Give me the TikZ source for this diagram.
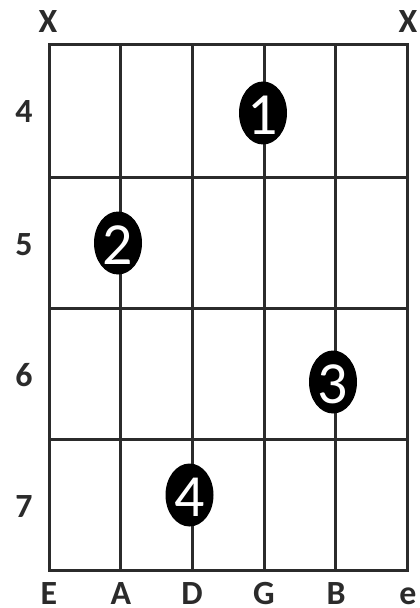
\documentclass[tikz,border=0pt]{standalone}
\usepackage{fontspec}
\setmainfont{Carlito}
\usetikzlibrary{shapes.geometric}
\definecolor{ink}{HTML}{2B2B2B}
\tikzset{
  gridline/.style={draw=ink, line width=3bp},
  lbl/.style={font=\fontsize{34}{34}\selectfont\bfseries, text=ink, inner sep=0pt, anchor=base},
  fdot/.style={ellipse, fill=black, draw=none, minimum width=48bp, minimum height=63bp, inner sep=0pt},
  fnum/.style={font=\fontsize{60}{60}\selectfont, text=white, inner sep=0pt}
}
\begin{document}
\begin{tikzpicture}[x=1bp,y=-1bp]
\useasboundingbox[fill=white] (0,0) rectangle (419,608);
% string and fret coordinates
\foreach \n/\x in {s1/49,s2/120,s3/192,s4/264,s5/335,s6/407}{
  \coordinate (\n t) at (\x,45);
  \coordinate (\n b) at (\x,570);
}
\foreach \n/\y in {f0/45,f1/177,f2/308,f3/439,f4/570}{
  \coordinate (\n l) at (49,\y);
  \coordinate (\n r) at (407,\y);
}
\foreach \n in {s1,s2,s3,s4,s5,s6}{ \draw[gridline] (\n t) -- (\n b); }
\foreach \n in {f0,f1,f2,f3,f4}{ \draw[gridline, line cap=rect] (\n l) -- (\n r); }
% top markers
\node[lbl] (xl) at (48,33) {X};
\node[lbl] (xr) at (408,33) {X};
% fret numbers
\node[lbl] (n4) at (24,123) {4};
\node[lbl] (n5) at (24,255) {5};
\node[lbl] (n6) at (24,386) {6};
\node[lbl] (n7) at (24,517) {7};
% string names
\node[lbl] (tE) at (49,604) {E};
\node[lbl] (tA) at (121,604) {A};
\node[lbl] (tD) at (192,604) {D};
\node[lbl] (tG) at (264,604) {G};
\node[lbl] (tB) at (336,604) {B};
\node[lbl] (te) at (408,604) {e};
% finger dots
\node[fdot] (d1) at (263,113) {};
\node[fnum] at ([yshift=-2bp]d1.center) {1};
\node[fdot] (d2) at (118,243) {};
\node[fnum] at ([yshift=-2bp]d2.center) {2};
\node[fdot] (d3) at (333,382) {};
\node[fnum] at ([yshift=-2bp]d3.center) {3};
\node[fdot] (d4) at (189.5,495) {};
\node[fnum] at ([yshift=-2bp]d4.center) {4};
\end{tikzpicture}
\end{document}
